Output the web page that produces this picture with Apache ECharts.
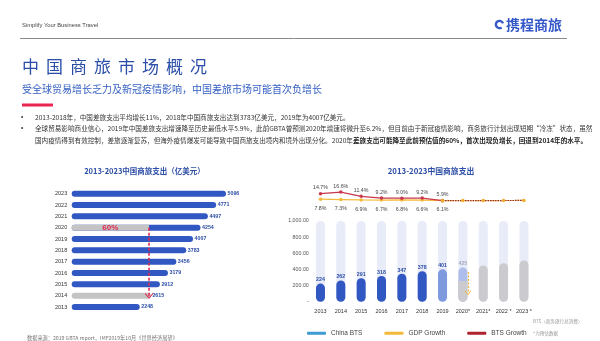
<!DOCTYPE html>
<html><head><meta charset="utf-8">
<script src="https://cdn.jsdelivr.net/npm/echarts@6/dist/echarts.min.js"></script>
<style>html,body{margin:0;padding:0;background:#fff}#c{width:600px;height:341px}</style>
</head><body><div id="c"></div>
<script>
const FONT = "'Liberation Sans','Noto Sans CJK SC',sans-serif";
const CJK = "'Noto Sans CJK SC','Liberation Sans',sans-serif";

// ---- data ----
const spendYears = ['2013','2014','2015','2016','2017','2018','2019','2020','2021','2022','2023'];
const spendValues = [2248,2615,2912,3179,3456,3783,4007,4254,4497,4771,5096];
const spendGreyYears = ['2014'];
const share2020 = 0.6; // 60%
const btsCats = ['2013','2014','2015','2016','2017','2018','2019','2020*','2021*','2022 *','2023 *'];
const btsValues = [224,262,291,318,347,378,401,425,450,477,510];
const btsTrack = [1000,1000,1000,1000,1000,1000,1000,1000,1000,1000,1000];
const btsCut2020 = 255; // 60% of 425
const btsGrowth = [14.7,16.6,11.4,9.2,9.0,9.2,5.9,null,null,null,null];
const gdpGrowth = [7.8,7.3,6.9,6.7,6.8,6.6,6.1,null,null,null,null];
const btsGrowthForecast = [null,null,null,null,null,null,5.9,6.0,6.0,6.1,6.2];
const gdpGrowthForecast = [null,null,null,null,null,null,6.1,6.0,6.0,6.1,6.2];
const arrowPos = 7.25, arrowFrom = 368, arrowTo = 110;

// ---- styles ----
const BLUE = '#3157c2', TBLUE = '#2d4ea6', GREY = '#c4c4c4', RED = '#e0284f';
const chevron = 'path://M5,0L10,6L10,8L5,2L0,8L0,6Z';

const chart = echarts.init(document.getElementById('c'));

const title = '中国商旅市场概况';
const graphic = [
  {type:'text', x:22, y:25.5, style:{text:'Simplify Your Business Travel', fontSize:5.8, fill:'#444', fontFamily:FONT, verticalAlign:'middle'}},
  {type:'line', shape:{x1:20, y1:38.5, x2:567, y2:38.5}, style:{stroke:'#8a8a8a', lineWidth:1}},
  {type:'arc', shape:{cx:499.5, cy:24.5, r:3.6, startAngle:Math.PI*0.3, endAngle:Math.PI*1.9}, style:{stroke:'#3558c8', lineWidth:2.4, fill:null}},
  {type:'text', x:506, y:25, style:{text:'携程商旅', fontSize:14, fontWeight:'bold', fill:'#3558c8', fontFamily:CJK, verticalAlign:'middle'}},
  {type:'text', x:22, y:89, style:{text:'受全球贸易增长乏力及新冠疫情影响，中国差旅市场可能首次负增长', fontSize:10, fill:'#3560c2', fontFamily:CJK, verticalAlign:'middle'}},
  {type:'rect', shape:{x:22, y:103.5, width:31, height:3}, style:{fill:'#e8264f'}},
  {type:'text', x:21, y:117, style:{text:'•', fontSize:6.5, fill:'#333', fontFamily:FONT, verticalAlign:'middle'}},
  {type:'text', x:21, y:128.5, style:{text:'•', fontSize:6.5, fill:'#333', fontFamily:FONT, verticalAlign:'middle'}},
  {type:'text', x:35, y:117, style:{text:'2013-2018年，中国差旅支出平均增长11%，2018年中国商旅支出达到3783亿美元，2019年为4007亿美元。', fontSize:6.6, fill:'#333', fontFamily:CJK, verticalAlign:'middle'}},
  {type:'text', x:35, y:128.5, style:{text:'全球贸易影响商业信心，2019年中国差旅支出增速降至历史最低水平5.9%，此前GBTA曾预测2020年增速将微升至6.2%，但目前由于新冠疫情影响，商务旅行计划出现短期“冷冻”状态，虽然', fontSize:6.6, fill:'#333', fontFamily:CJK, verticalAlign:'middle'}},
  {type:'text', x:35, y:140, style:{text:'国内疫情得到有效控制，差旅逐渐复苏，但海外疫情爆发可能导致中国商旅支出境内和境外出现分化。2020年{b|差旅支出可能降至此前预估值的60%，首次出现负增长，回退到2014年的水平。}', fontSize:6.6, fill:'#333', fontFamily:CJK, verticalAlign:'middle',
    rich:{b:{fontSize:6.6, fontWeight:'bold', fill:'#222', fontFamily:CJK}}}},
  {type:'text', x:144.5, y:171, style:{text:'2013-2023中国商旅支出（亿美元）', fontSize:7.5, fontWeight:'bold', fill:TBLUE, fontFamily:CJK, align:'center', verticalAlign:'middle'}},
  {type:'text', x:431, y:171, style:{text:'2013-2023中国商旅支出', fontSize:7.8, fontWeight:'bold', fill:TBLUE, fontFamily:CJK, align:'center', verticalAlign:'middle'}},
  {type:'text', x:533, y:321.5, style:{text:'BTS（商务旅行总消费）', fontSize:4.6, fill:'#999', fontFamily:CJK, verticalAlign:'middle'}},
  {type:'text', x:533, y:333.5, style:{text:'*为预估数据', fontSize:4.6, fill:'#999', fontFamily:CJK, verticalAlign:'middle'}},
  {type:'text', x:27, y:338, style:{text:'数据来源：2019 GBTA report，IMF2019年10月《世界经济展望》', fontSize:5.2, fill:'#777', fontFamily:CJK, verticalAlign:'middle'}}
];
for (let i = 0; i < title.length; i++) {
  graphic.push({type:'text', x:22 + i*24, y:67, style:{text:title[i], fontSize:17, fill:'#2a4ea8', fontFamily:CJK, verticalAlign:'middle'}});
}

const yLabelFmt = v => v === 0 ? '-' : v.toLocaleString('en-US', {minimumFractionDigits:2, maximumFractionDigits:2});

const option = {
  animation: false,
  textStyle: {fontFamily: FONT},
  graphic: graphic,
  legend: {
    left: 302, top: 325, itemWidth: 19, itemHeight: 3, itemGap: 22, icon: 'roundRect',
    selectedMode: false,
    textStyle: {fontSize: 6.5, color: '#444', fontFamily: FONT},
    data: [
      {name:'China BTS', itemStyle:{color:'#3d9bd6'}},
      {name:'GDP Growth', itemStyle:{color:'#f4b93a'}},
      {name:'BTS Growth', itemStyle:{color:'#b0222e'}}
    ]
  },
  grid: [
    {left: 71.7, top: 188, width: 181.7, height: 124.7},
    {left: 310.3, top: 221, width: 223.8, height: 80.7},
    {left: 310.3, top: 189.4, width: 223.8, height: 16}
  ],
  xAxis: [
    {gridIndex:0, type:'value', min:0, max:6000, show:false},
    {gridIndex:1, type:'category', data:btsCats, axisLine:{show:false}, axisTick:{show:false},
      axisLabel:{fontSize:5.5, color:'#333', margin:7, interval:0, fontFamily:FONT}},
    {gridIndex:2, type:'category', data:btsCats, show:false},
    {gridIndex:1, type:'value', min:-0.5, max:10.5, show:false}
  ],
  yAxis: [
    {gridIndex:0, type:'category', data:spendYears, axisLine:{show:false}, axisTick:{show:false},
      axisLabel:{fontSize:5.5, color:'#333', margin:4.5, interval:0, fontFamily:FONT}},
    {gridIndex:1, type:'value', min:0, max:1000, interval:200, axisLine:{show:false}, axisTick:{show:false},
      splitLine:{show:false}, axisLabel:{fontSize:5.3, color:'#555', margin:1.5, formatter:yLabelFmt, fontFamily:FONT}},
    {gridIndex:2, type:'value', min:0, max:20, show:false}
  ],
  series: [
    {
      name:'spend', type:'bar', xAxisIndex:0, yAxisIndex:0, barWidth:6, barGap:'-100%',
      data: spendValues.map((v, i) => spendGreyYears.includes(spendYears[i]) ? {value:v, itemStyle:{color:GREY}} : v),
      itemStyle:{color:BLUE, borderRadius:3},
      label:{show:true, position:'right', distance:1.5, fontSize:5.3, fontWeight:'bold', color:TBLUE, fontFamily:FONT}
    },
    {
      name:'spend60', type:'bar', xAxisIndex:0, yAxisIndex:0, barWidth:6, barGap:'-100%',
      data: spendYears.map((y, i) => y === '2020' ? +(spendValues[i]*share2020).toFixed(1) : null),
      itemStyle:{color:GREY, borderRadius:[3,0,0,3]},
      label:{show:true, position:'inside', formatter:'60%', fontSize:8, fontWeight:'bold', color:RED, fontFamily:FONT},
      markLine:{
        silent:true, symbol:['none', chevron], symbolSize:[8,6],
        lineStyle:{color:RED, type:[3,2], width:1.6},
        label:{show:false},
        data:[[{coord:[+(spendValues[7]*share2020).toFixed(1), '2020']}, {coord:[+(spendValues[7]*share2020).toFixed(1), '2014']}]]
      }
    },
    {
      name:'track', type:'bar', xAxisIndex:1, yAxisIndex:1, barWidth:9, barGap:'-100%', silent:true,
      data: btsTrack, itemStyle:{color:'#e8ebf8', borderRadius:4.5}
    },
    {
      name:'China BTS', type:'bar', xAxisIndex:1, yAxisIndex:1, barWidth:9, barGap:'-100%',
      data: btsValues.map((v, i) => {
        if (i <= 5) return {value:v, itemStyle:{color:BLUE}};
        if (i === 6) return {value:v, itemStyle:{color:'#7f99de'}};
        if (i === 7) return {value:v, itemStyle:{color:'#aebde9'}, label:{color:'#a3a9c2'}};
        return {value:v, itemStyle:{color:'#cacacf'}, label:{show:false}};
      }),
      itemStyle:{borderRadius:4.5},
      label:{show:true, position:'top', distance:1, fontSize:5.3, fontWeight:'bold', color:TBLUE, fontFamily:FONT}
    },
    {
      name:'btsCut', type:'bar', xAxisIndex:1, yAxisIndex:1, barWidth:9, barGap:'-100%', silent:true,
      data: btsCats.map((c, i) => i === 7 ? btsCut2020 : null),
      itemStyle:{color:'#cacacf', borderRadius:[0,0,4.5,4.5]}
    },
    {
      name:'arrowHelper', type:'line', xAxisIndex:3, yAxisIndex:1, silent:true,
      data:[[arrowPos, arrowFrom]], symbolSize:0, showSymbol:false, lineStyle:{width:0},
      markLine:{
        silent:true, symbol:['none', chevron], symbolSize:[6,5],
        lineStyle:{color:'#f2b233', type:[2,1.5], width:1.2},
        label:{show:false},
        data:[[{coord:[arrowPos, arrowFrom]}, {coord:[arrowPos, arrowTo]}]]
      }
    },
    {
      name:'GDP Growth', type:'line', xAxisIndex:2, yAxisIndex:2, data:gdpGrowth,
      symbol:'circle', symbolSize:3.5, lineStyle:{color:'#f4b93a', width:1.3}, itemStyle:{color:'#f4b93a'},
      label:{show:true, position:'bottom', distance:5, fontSize:5.3, color:'#444', formatter: p => p.value.toFixed(1) + '%', fontFamily:FONT}
    },
    {
      name:'BTS Growth', type:'line', xAxisIndex:2, yAxisIndex:2, data:btsGrowth,
      symbol:'circle', symbolSize:3.5, lineStyle:{color:'#c8384e', width:1.3}, itemStyle:{color:'#c8384e'},
      label:{show:true, position:'top', distance:1.5, fontSize:5.3, color:'#444', formatter: p => p.value.toFixed(1) + '%', fontFamily:FONT}
    },
    {
      name:'gdpForecast', type:'line', xAxisIndex:2, yAxisIndex:2, data:gdpGrowthForecast,
      showSymbol:false, lineStyle:{color:'#f4b93a', width:1.2, type:[2,1]}
    },
    {
      name:'btsForecast', type:'line', xAxisIndex:2, yAxisIndex:2, data:btsGrowthForecast,
      symbol:'circle', symbolSize:3.5, lineStyle:{color:'#9a2a2a', width:1.2, type:[1.5,1]}, itemStyle:{color:'#eeae2c'}
    }
  ]
};
chart.setOption(option);
</script></body></html>
